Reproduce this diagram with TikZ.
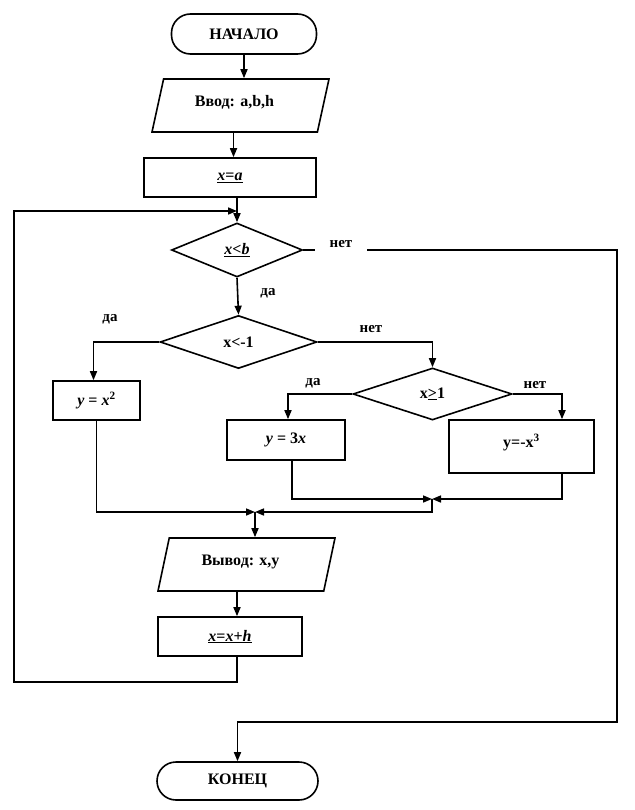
\documentclass[tikz,border=0pt]{standalone}
\usepackage{fontspec}
\setmainfont{Liberation Serif}
\usetikzlibrary{shapes.geometric,arrows.meta}
\begin{document}
\begin{tikzpicture}[x=1pt,y=-1pt,
  every node/.style={font=\fontsize{16}{19}\selectfont\bfseries, inner sep=0pt},
  lw/.style={line width=1.6pt},
  arr/.style={lw, -{Triangle[length=9pt,width=7pt]}},
  term/.style={draw, lw, rectangle, rounded corners=19pt},
  proc/.style={draw, lw, rectangle},
  io/.style={draw, lw, trapezium, trapezium left angle=60, trapezium right angle=120, trapezium stretches body},
  cond/.style={draw, lw, diamond},
  lbl/.style={font=\fontsize{15}{18}\selectfont\bfseries}
]
\useasboundingbox (0,0) rectangle (634,810);

% blocks
\node[term, minimum width=145pt, minimum height=40pt] (nach) at (244,34) {НАЧАЛО};
\node[io, minimum width=177pt, minimum height=53pt, text depth=9pt] (vvod) at (240.5,105.5) {\hspace*{-12pt}Ввод: a,b,h};
\node[proc, minimum width=172pt, minimum height=39pt] (xa) at (230,177.5) {\underline{\textit{x}=\textit{a}}};
\node[cond, minimum width=131pt, minimum height=54pt] (d1) at (237,250) {\underline{\textit{x}<\textit{b}}};
\node[cond, minimum width=157pt, minimum height=53pt] (d2) at (238.5,342) {x<-1};
\node[cond, minimum width=159pt, minimum height=52pt] (d3) at (432.5,394) {x\underline{>}1};
\node[proc, minimum width=87pt, minimum height=39pt] (b1) at (96.5,400.5) {\textit{y} = \textit{x}\textsuperscript{2}};
\node[proc, minimum width=118pt, minimum height=40pt] (b2) at (286,440) {\textit{y} = 3\textit{x}};
\node[proc, minimum width=145pt, minimum height=53pt, text depth=12pt] (b3) at (521.5,446.5) {y=-x\textsuperscript{3}};
\node[io, minimum width=177pt, minimum height=53pt, text depth=9pt] (vyv) at (246.5,564.5) {\hspace*{-12pt}Вывод: x,y};
\node[proc, minimum width=144pt, minimum height=39pt] (xh) at (230,636.5) {\underline{\textit{x}=\textit{x}+\textit{h}}};
\node[term, minimum width=161pt, minimum height=38pt] (kon) at (237.5,781) {КОНЕЦ};

% junctions
\coordinate (j1) at (237,211);
\coordinate (lpL) at (14,682);
\coordinate (rR) at (617,722);
\coordinate (j2) at (432,499);
\coordinate (j3) at (255,512);

% connectors
\draw[arr] (nach.south) -- (nach.south |- vvod.north);
\draw[arr] ([xshift=-7pt]vvod.south) -- ([xshift=-7pt]vvod.south |- xa.north);
\draw[arr] (xa.south -| d1.north) -- (d1.north);
\draw[arr] (xh.south -| j1) |- (lpL) |- (j1);
\draw[arr] (d1.east) -- (d1.east -| rR) -- (rR) -- (rR -| kon.north) -- (kon.north);
\draw[arr] (d1.south) -- (d2.north);
\draw[arr] (d2.west) -| ([xshift=-3pt]b1.north);
\draw[arr] (d2.east) -| (d3.north);
\draw[arr] (d3.west) -| ([xshift=2pt]b2.north);
\draw[arr] (d3.east) -| ([xshift=40.5pt]b3.north);
\draw[arr] ([xshift=6pt]b2.south) |- (j2);
\draw[arr] ([xshift=40.5pt]b3.south) |- (j2);
\draw[arr] (j2) |- (j3);
\draw[arr] (b1.south) |- (j3);
\draw[arr] (j3) -- (j3 |- vyv.north);
\draw[arr] (vyv.south -| j1) -- (xh.north -| j1);

% labels
\node[lbl, fill=white, minimum width=52pt, minimum height=18pt] (n1) at (341,244) {нет};
\node[lbl] (y1) at (268,293) {да};
\node[lbl] (y2) at (110,319) {да};
\node[lbl] (n2) at (371,329) {нет};
\node[lbl] (y3) at (313,383) {да};
\node[lbl] (n3) at (535,385) {нет};
\end{tikzpicture}
\end{document}
